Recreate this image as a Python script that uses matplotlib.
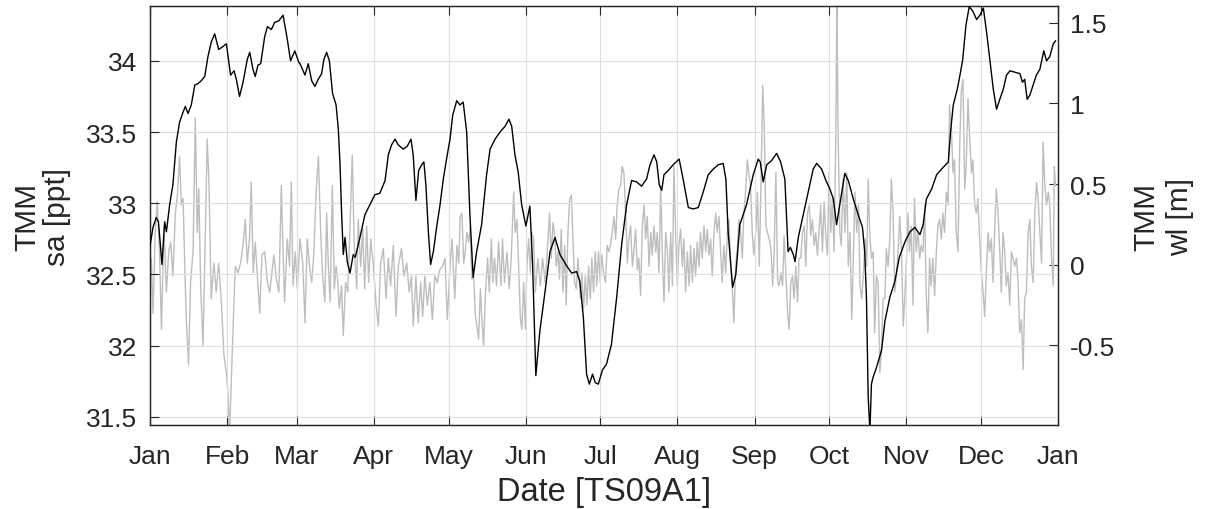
import numpy as np
import matplotlib
matplotlib.use("Agg")
import matplotlib.pyplot as plt
import matplotlib.dates as mdates
from matplotlib.ticker import FuncFormatter, FixedLocator

plt.rcParams['font.family'] = ['Liberation Sans', 'DejaVu Sans']

# ---------------- data (day of year 2009, value) ----------------
sal_day = [0, 1.2, 2.5, 3.4, 4.8, 5.9, 6.6, 7.9, 9.2, 10.6, 11.9, 13.3, 14.2, 15.3, 16.6,
           18.0, 19.3, 20.6, 22.0, 23.3, 24.6, 26.0, 27.6, 29.3, 30.7, 32.4, 33.8, 34.7,
           36.0, 37.4, 39.1, 40.1, 41.4, 42.3, 43.4, 44.5, 46.1, 47.2, 48.8, 50.1, 51.7,
           53.5, 55.2, 56.5, 58.2, 59.8, 60.3, 62.3, 63.6, 65.0, 66.3, 67.6, 69.0, 69.9,
           71.0, 72.1, 73.4, 74.8, 75.7, 76.4, 77.0, 77.7, 78.4, 79.3, 80.4, 81.7, 82.5,
           84.4, 86.4, 88.4, 90.4, 92.4, 94.5, 95.8, 97.1, 98.5, 99.8, 101.8, 103.4, 104.9,
           105.8, 106.9, 108.0, 109.2, 110.1, 110.9, 111.9, 112.8, 113.9, 115.2, 116.6,
           117.9, 119.2, 120.6, 121.7, 123.3, 124.6, 125.9, 127.3, 128.6, 129.9, 131.3,
           133.3, 135.3, 136.7, 138.7, 140.7, 142.7, 144.3, 145.4, 146.7, 148.0, 149.4,
           151.1, 152.7, 153.8, 155.1, 156.7, 158.8, 160.8, 162.8, 164.8, 167.5, 169.5,
           171.5, 172.8, 174.2, 175.5, 176.6, 177.9, 179.0, 180.2, 181.9, 183.5, 185.5,
           187.6, 189.6, 191.6, 193.6, 195.6, 197.6, 199.6, 201.0, 202.6, 203.7, 204.7,
           205.7, 206.6, 208.3, 210.3, 212.7, 214.3, 216.4, 218.4, 220.4, 222.4, 224.4,
           226.4, 228.4, 230.4, 231.5, 232.4, 234.2, 235.5, 237.1, 239.8, 242.5, 244.5,
           245.3, 246.5, 247.9, 249.9, 251.9, 253.5, 255.2, 256.5, 257.4, 258.6, 259.3,
           260.6, 262.6, 264.6, 266.6, 268.0, 270.0, 271.7, 273.3, 274.7, 276.0, 277.3,
           279.3, 280.7, 282.7, 284.7, 286.4, 287.3, 288.0, 288.7, 289.4, 290.0, 290.7,
           292.1, 294.1, 295.4, 297.4, 299.4, 301.2, 303.5, 305.5, 307.5, 309.5, 310.8,
           312.1, 314.2, 316.2, 318.2, 320.9, 321.8, 322.9, 324.5, 325.6, 326.7, 328.0,
           329.3, 330.7, 332.3, 333.6, 335.0, 336.3, 337.6, 339.0, 340.3, 341.6, 343.0,
           344.3, 345.7, 347.7, 349.7, 350.7, 351.6, 352.6, 353.7, 355.0, 356.3, 357.7,
           359.3, 360.4, 361.7, 363.1, 364.0]
sal_val = [32.70, 32.83, 32.90, 32.87, 32.57, 32.87, 32.80, 32.99, 33.13, 33.43, 33.57, 33.64,
           33.68, 33.63, 33.69, 33.83, 33.84, 33.86, 33.89, 34.03, 34.13, 34.19, 34.08, 34.10,
           34.12, 33.90, 33.93, 33.87, 33.75, 33.85, 34.01, 34.06, 33.94, 33.89, 33.97, 33.98,
           34.17, 34.24, 34.22, 34.27, 34.28, 34.32, 34.15, 34.00, 34.07, 33.99, 33.98, 33.90,
           33.98, 33.86, 33.82, 33.87, 33.91, 34.01, 34.06, 34.00, 33.77, 33.69, 33.52, 33.27,
           32.94, 32.64, 32.76, 32.59, 32.51, 32.64, 32.62, 32.76, 32.92, 32.99, 33.06, 33.07,
           33.16, 33.34, 33.41, 33.45, 33.41, 33.38, 33.40, 33.45, 33.34, 33.02, 33.23, 33.27,
           33.29, 33.13, 32.80, 32.57, 32.66, 32.83, 32.99, 33.17, 33.31, 33.45, 33.62, 33.72,
           33.69, 33.71, 33.50, 32.92, 32.48, 32.66, 32.85, 33.20, 33.38, 33.45, 33.50, 33.54,
           33.59, 33.54, 33.34, 33.22, 32.99, 32.84, 32.98, 32.57, 31.79, 32.10, 32.38, 32.66,
           32.76, 32.64, 32.56, 32.51, 32.52, 32.45, 32.20, 31.80, 31.73, 31.80, 31.74, 31.73,
           31.83, 31.87, 32.01, 32.34, 32.71, 32.99, 33.16, 33.15, 33.12, 33.17, 33.27, 33.34,
           33.29, 33.13, 33.09, 33.20, 33.23, 33.27, 33.31, 33.17, 32.97, 32.96, 32.97, 33.08,
           33.20, 33.24, 33.27, 33.28, 33.17, 32.80, 32.41, 32.50, 32.85, 32.99, 33.20, 33.31,
           33.29, 33.15, 33.27, 33.30, 33.35, 33.29, 33.17, 32.66, 32.69, 32.64, 32.59, 32.76,
           32.92, 33.08, 33.24, 33.28, 33.24, 33.16, 33.10, 33.03, 32.85, 32.99, 33.21, 33.16,
           33.03, 32.92, 32.83, 32.66, 32.34, 31.64, 31.40, 31.73, 31.78, 31.85, 31.97, 32.17,
           32.34, 32.45, 32.62, 32.73, 32.80, 32.83, 32.78, 32.85, 33.03, 33.10, 33.20, 33.24,
           33.29, 33.50, 33.69, 33.80, 33.90, 34.01, 34.25, 34.38, 34.35, 34.29, 34.32, 34.37,
           34.20, 34.01, 33.80, 33.66, 33.73, 33.80, 33.90, 33.93, 33.92, 33.91, 33.85, 33.87,
           33.73, 33.76, 33.83, 33.90, 33.94, 34.07, 34.00, 34.03, 34.12, 34.14]

wl_day = [0, 0.5, 1.2, 2.1, 2.9, 3.9, 4.6, 5.6, 6.6, 7.5, 8.3, 9.2, 10.2, 11.0, 11.9, 12.6,
          13.3, 13.9, 14.6, 15.5, 16.3, 17.3, 18.2, 19.0, 19.6, 20.4, 21.3, 22.0, 23.0, 23.7,
          24.6, 25.7, 26.6, 27.6, 28.7, 29.7, 30.7, 31.3, 32.0, 32.7, 33.8, 34.3, 35.4, 36.4,
          37.4, 38.3, 39.1, 40.0, 40.7, 41.5, 42.3, 43.4, 44.1, 45.0, 46.1, 47.2, 48.1, 49.0,
          49.8, 50.8, 51.8, 52.8, 53.5, 54.1, 55.2, 56.1, 56.8, 57.5, 58.4, 59.2,
          60.3, 61.4, 62.3, 63.2, 64.0, 65.0, 65.9, 66.7, 67.7, 68.6, 69.4, 70.3, 71.0, 71.7,
          72.4, 73.3, 74.1, 74.8, 75.4, 76.1, 77.0, 77.7, 78.6, 79.5, 80.4, 81.3, 82.1, 83.1,
          83.7, 84.7, 85.5, 86.3, 87.1, 87.9, 88.7, 89.8, 90.9, 91.8, 92.7, 93.8, 94.9, 95.8,
          96.7, 97.8, 98.9, 99.8, 101.1, 102.1, 103.2, 104.2, 105.1, 105.8, 106.9, 107.8,
          108.8, 109.6, 110.5, 111.5, 112.5, 113.5, 114.5, 115.5, 116.5, 117.6, 118.6, 119.5,
          120.6,
          121.4, 122.5, 123.4, 124.1, 124.7, 125.4, 126.1, 126.7, 127.4, 128.1, 128.7, 129.4,
          130.1, 130.8, 131.4, 132.1, 132.8, 133.4, 134.1, 134.8, 135.7, 136.4, 137.2, 137.8,
          138.5, 139.3, 140.1, 141.1, 141.7, 142.5, 143.5, 144.4, 145.2, 146.2, 146.8, 147.5,
          148.2, 148.9, 149.5, 150.2, 150.9, 151.5, 152.2, 152.9, 153.5, 154.2, 154.9, 155.9,
          156.9, 157.8, 158.9, 160.0, 160.6, 161.3, 162.0, 162.6, 163.3, 164.0, 164.6, 165.3,
          166.0, 166.7, 167.3, 168.0, 168.7, 169.4, 170.0, 170.7, 171.4, 172.0, 173.0, 173.6,
          174.3, 175.0, 175.6, 176.3, 177.0, 177.6, 178.3, 179.0, 179.6, 180.3, 181.0, 181.6,
          182.5, 183.1, 183.8, 184.5, 185.1, 185.8, 186.5, 187.2, 187.8, 188.5, 189.2, 189.8,
          190.5, 191.2, 191.9, 192.5, 193.2, 193.9, 194.5, 195.2, 195.9, 196.5, 197.2, 197.9,
          198.6, 199.2, 199.9, 200.6, 201.3, 201.9, 202.6, 203.3, 203.9, 204.6, 205.3, 206.0,
          206.6, 207.3, 208.0, 208.6, 209.3, 210.0, 210.6, 211.3, 212.0, 212.6, 213.3, 214.0,
          214.6, 215.3, 216.0, 216.7, 217.3, 218.0, 218.7, 219.3, 220.0, 220.7, 221.3, 222.0,
          222.7, 223.4, 224.0, 224.7, 225.4, 226.0, 226.7, 227.4, 228.0, 228.7, 229.4, 230.0,
          230.7, 231.4, 232.1, 232.7, 233.4, 234.1, 234.7, 235.4, 236.1, 236.7, 237.4, 238.1,
          238.7, 239.4, 240.1, 240.7, 241.4, 242.1, 242.7,
          243.6, 244.2, 244.9, 245.6, 246.3, 246.9, 247.6, 248.2, 248.9, 249.6, 250.3, 250.9,
          251.6, 252.3, 252.9, 253.6, 254.3, 254.9, 255.6, 256.3, 256.9, 257.6, 258.3, 258.9,
          259.6, 260.3, 260.9, 261.6, 262.3, 263.0, 263.6, 264.3, 265.0, 265.6, 266.3, 267.0,
          267.6, 268.3, 269.0, 269.6, 270.3, 271.0, 271.7, 272.3, 273.0, 273.7, 274.3, 275.0,
          275.7, 276.1, 276.6, 277.3, 277.9, 278.6, 279.4, 280.1, 280.7, 281.4, 282.1, 282.8,
          283.4, 284.1, 284.8, 285.4, 286.1, 286.8, 287.5, 288.1, 288.7, 289.3, 290.0, 290.7,
          291.3, 292.0, 292.7, 293.4, 294.0, 294.7, 295.4, 296.0, 296.7, 297.4, 298.0, 298.7,
          299.4, 300.1, 300.7, 301.4, 302.1, 302.8, 303.4, 304.1,
          304.7, 305.3, 306.0, 306.7, 307.3, 308.0, 308.7, 309.4, 310.0, 310.7, 311.4, 312.0,
          312.7, 313.4, 314.0, 314.7, 315.4, 316.1, 316.7, 317.4, 318.1, 318.7, 319.4, 320.1,
          320.8, 321.4, 322.1, 322.8, 323.4, 324.1, 324.8, 325.5, 326.1, 326.8, 327.5, 328.1,
          328.8, 329.5, 330.2, 330.8, 331.5, 332.2, 332.8, 333.5, 334.2, 334.8, 335.5, 336.2,
          336.9, 337.5, 338.2, 338.9, 339.5, 340.2, 340.9, 341.6, 342.2, 342.9, 343.6, 344.2,
          344.9, 345.6, 346.3, 346.9, 347.6, 348.3, 348.9, 349.6, 350.3, 351.0, 351.6, 352.3,
          353.0, 353.7, 354.3, 355.0, 355.7, 356.4, 357.0, 357.7, 358.4, 359.0, 359.7, 360.4,
          361.1, 361.7, 362.4, 363.1, 363.5, 364.0]
wl_val = [-0.11, 0.04, -0.30, 0.20, 0.39, 0.04, -0.40, 0.24, -0.17, 0.08, 0.14, -0.07, 0.32,
          0.43, 0.67, 0.37, 0.41, 0.04, -0.34, -0.62, -0.11, 0.08, 0.91, 0.20, 0.47, -0.15,
          -0.50, 0.01, 0.78, 0.51, -0.21, 0.01, -0.17, 0.01, -0.23, -0.56, -0.67, -0.79, -1.05,
          -0.71, -0.21, -0.01, -0.05, 0.01, 0.12, 0.28, 0.01, 0.16, 0.51, -0.05, 0.14, -0.13,
          -0.30, 0.06, 0.08, -0.11, -0.17, -0.05, 0.06, -0.09, -0.17, 0.49, 0.08, -0.23, 0.16,
          -0.01, 0.51, -0.13, 0.08, -0.15,
          0.16, 0.01, -0.36, 0.16, 0.01, -0.11, 0.08, 0.43, 0.67, 0.20, -0.07, -0.23, 0.32,
          -0.01, -0.23, 0.49, -0.15, -0.01, -0.09, -0.27, -0.13, -0.44, -0.11, -0.17, 0.24,
          0.68, 0.12, -0.15, 0.28, -0.01, 0.22, -0.15, 0.24, -0.11, 0.16, -0.01, -0.25, -0.38,
          0.01, 0.10, -0.21, 0.04, -0.13, 0.12, -0.32, -0.01, 0.10, -0.07, 0.01, -0.17, -0.07,
          -0.38, -0.07, -0.36, -0.11, -0.32, -0.07, -0.25, -0.11, -0.34, -0.07, -0.11, -0.03,
          -0.01, 0.04, -0.34, -0.01,
          0.16, -0.21, 0.12, 0.01, 0.30, 0.32, 0.01, 0.08, 0.20, 0.14, 0.24, -0.09, -0.07,
          -0.32, -0.38, -0.46, -0.15, -0.34, -0.50, -0.19, 0.04, -0.17, 0.16, -0.11, 0.04,
          -0.13, 0.14, -0.13, 0.16, -0.11, 0.08, -0.15, 0.04, 0.45, 0.20, 0.28, -0.01, -0.34,
          -0.40, -0.11, -0.40, -0.01, 0.16, -0.05, 0.20, 0.16, -0.17, 0.04, -0.13, 0.04,
          -0.11, 0.16, 0.32, 0.04, 0.26, 0.20, -0.01, 0.08, -0.09, 0.22, -0.17, 0.12, -0.25,
          0.20, 0.41, 0.43, 0.16, -0.11, -0.15, 0.04, -0.21, -0.05, -0.27, -0.07, -0.25,
          -0.01, -0.21, 0.04, -0.17, 0.08, -0.13, 0.08, -0.11, 0.06,
          -0.07, -0.11, 0.12, 0.08, 0.12, 0.20, 0.30, 0.16, 0.37, 0.47, 0.49, 0.61, 0.57,
          0.32, 0.01, 0.16, 0.24, -0.01, 0.08, 0.22, -0.03, 0.04, -0.19, 0.24, 0.37, 0.16,
          0.30, -0.01, 0.20, 0.06, 0.24, 0.08, 0.20, -0.05, 0.49, 0.04, -0.23, 0.20, 0.08,
          -0.17, 0.20, -0.13, 0.61, 0.20, -0.13, 0.12, 0.22, -0.01, 0.16, -0.17, 0.08, -0.13,
          0.12, -0.11, 0.10, -0.07, 0.14, -0.01, 0.20, 0.04, 0.24, 0.08, 0.22, 0.06, 0.16,
          -0.07, 0.20, 0.32, 0.20, 0.30, 0.08, -0.11, 0.12, -0.05, 0.20, 0.28, -0.01, -0.15,
          -0.36, -0.01, 0.10, 0.28, 0.20, 0.04, 0.32, 0.45, 0.65, 0.57, 0.49, 0.20, 0.06,
          0.22, 0.45, -0.01, 0.49, 1.11, 0.86, 0.24, 0.20, 0.16, 0.10, -0.13, 0.08, 0.57,
          -0.11, -0.13, -0.05, -0.13, 0.18, -0.05, -0.30, -0.40, -0.11, -0.07, -0.21, -0.01,
          -0.23, 0.04, 0.04, 0.20, 0.24, -0.01, 0.32, 0.37, 0.18, 0.28, 0.12, 0.20, 0.06,
          0.22, 0.37, 0.08, 0.39, 0.16, 0.06, 0.57, 0.20, 0.41, 0.08, 0.82, 1.65, 0.82, 0.20,
          0.12, 0.53, 0.20, 0.57, -0.01, 0.20, -0.34, 0.08, 0.45, 0.20, 0.37, -0.13, -0.21,
          -0.05, 0.16, -0.01, 0.53, 0.20, 0.04, 0.08, -0.42, -0.07, -0.11, -0.67, -0.52,
          -0.21, -0.21, 0.10, -0.01, 0.16, 0.53, 0.32, -0.17, -0.05, 0.08, 0.30, 0.08, -0.38,
          -0.21, 0.04,
          0.32, 0.08, 0.24, -0.25, 0.41, 0.08, 0.20, 0.04, 0.12, 0.08, 0.37, -0.17, -0.42,
          0.04, -0.13, 0.04, -0.19, 0.08, 0.24, 0.28, 0.16, 0.32, 0.20, 0.45, 0.37, 0.99,
          0.86, 0.57, 0.65, 0.20, 0.08, 0.74, 1.07, 1.15, 0.47, 0.61, 1.03, 0.78, 0.57, 0.65,
          0.37, 0.32, 0.41, 0.16, -0.05, -0.15, -0.32, -0.05, 0.20, 0.08, 0.16, -0.11, 0.20,
          0.47, 0.32, 0.08, -0.17, 0.20, 0.08, -0.13, -0.05, -0.25, 0.08, 0.04, -0.01, 0.04,
          -0.09, -0.42, -0.34, -0.65, -0.21, -0.17, 0.20, 0.28, -0.01, -0.11, 0.32, 0.51,
          0.41, 0.20, 0.01, 0.76, 0.49, 0.37, 0.45, 0.37, 0.04, -0.13, 0.61, 0.49]

sal_ticks = [31.5, 32, 32.5, 33, 33.5, 34]
wl_ticks = [-0.5, 0, 0.5, 1, 1.5]
year_start = np.datetime64('2009-01-01T00:00')
year_end = np.datetime64('2010-01-01T00:00')


def to_dates(days):
    return year_start + (np.asarray(days) * 86400).astype('timedelta64[s]')


# ---------------- figure ----------------
W, H = 1206, 510
fig = plt.figure(figsize=(W / 100, H / 100), dpi=100)
ax = fig.add_axes([150 / W, 1 - 426 / H, 908 / W, 419 / H])
ax2 = ax.twinx()

dark = '0.15'
tick_fs = 19
ylabel_fs = 21.5
xlabel_fs = 23.5
ax2.plot(to_dates(wl_day), wl_val, color='0.74', lw=1.0, zorder=2)
ax.plot(to_dates(sal_day), sal_val, color='black', lw=1.0, zorder=3)

ax.set_zorder(ax2.get_zorder() + 1)
ax.patch.set_visible(False)

ax.set_xlim(year_start, year_end)
ax.set_ylim(31.443, 34.385)
ax2.set_ylim(-0.993, 1.603)

ax.xaxis.set_major_locator(mdates.MonthLocator())
ax.xaxis.set_major_formatter(mdates.DateFormatter('%b'))
ax.yaxis.set_major_locator(FixedLocator(sal_ticks))
ax2.yaxis.set_major_locator(FixedLocator(wl_ticks))
fmt = FuncFormatter(lambda v, p: '%g' % v)
ax.yaxis.set_major_formatter(fmt)
ax2.yaxis.set_major_formatter(fmt)

ax.grid(True, color='0.87', lw=0.8, zorder=0)
ax.set_axisbelow(True)

ax.tick_params(axis='both', direction='in', length=6.5, width=0.8, color=dark,
               labelcolor=dark, labelsize=tick_fs)
ax.tick_params(axis='y', right=False, pad=9.2)
ax.tick_params(axis='x', top=True, pad=27.3)
ax2.tick_params(axis='y', direction='in', length=6.5, width=0.8, color=dark,
                labelcolor=dark, labelsize=tick_fs, pad=8.6)
for a in (ax, ax2):
    for s in a.spines.values():
        s.set_color(dark)
        s.set_linewidth(0.9)

ax.set_ylabel('TMM\nsa [ppt]', fontsize=ylabel_fs, color=dark, rotation=90,
              ha='center', va='center', linespacing=1.1)
ax.yaxis.set_label_coords((42 - 150) / 908, 0.5)
ax2.set_ylabel('TMM\nwl [m]', fontsize=ylabel_fs, color=dark, rotation=90,
               ha='center', va='center', linespacing=1.25)
ax2.yaxis.set_label_coords((1163 - 150) / 908, 0.5)
ax.set_xlabel('Date [TS09A1]', fontsize=xlabel_fs, color=dark, va='center')
ax.xaxis.set_label_coords(0.5, (426 - 493) / 419)

fig.canvas.draw()
for lbl in ax.get_xticklabels():
    lbl.set_va('baseline')

fig.savefig('out.png', dpi=100)
